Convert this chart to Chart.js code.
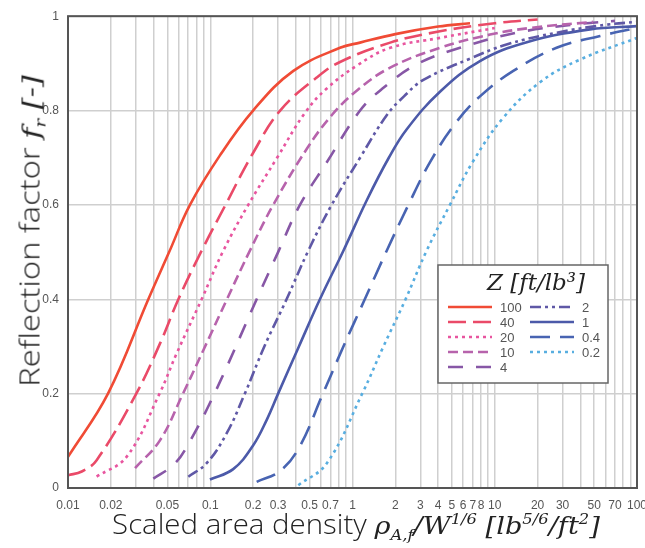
<!DOCTYPE html>
<html>
<head>
<meta charset="utf-8">
<script src="https://cdn.jsdelivr.net/npm/chart.js@4"></script>
<style>
    body { margin: 0; background: #fff; }
    #wrap { position: relative; width: 645px; height: 548px; overflow: hidden; }
    .ttl { position: absolute; font-family: 'Open Sans', sans-serif; font-weight: 300; font-size: 27px; color: #222; white-space: nowrap; line-height: 1; }
    .m { font-family: 'DejaVu Serif', 'Liberation Serif', serif; font-style: italic; font-size: 25px; }
    .m sub, .m sup { font-size: 15px; }
    #ytitle { left: 32px; top: 231px; }
    #xtitle { left: 356px; top: 526px; }
</style>
</head>
<body>
<div id="wrap">
    <canvas id="chart" width="645" height="548"></canvas>
    <div class="ttl" id="ytitle">Reflection factor <span class="m">f<sub>r</sub> [-]</span></div>
    <div class="ttl" id="xtitle">Scaled area density <span class="m">ρ<sub>A,f</sub>/W<sup>1/6</sup> [lb<sup>5/6</sup>/ft<sup>2</sup>]</span></div>
</div>
<script>
// Z values in ft/lb^3
const zLabels = ['100', '40', '20', '10', '4', '2', '1', '0.4', '0.2']

// curves: scaled area density (x) vs reflection factor (y)
const z100X = [0.01, 0.0191, 0.0367, 0.0514, 0.072, 0.117, 0.2, 0.384, 0.817, 1.13, 2, 4, 6.7]
const z100Y = [0.066, 0.2, 0.4, 0.5, 0.6, 0.705, 0.8, 0.884, 0.933, 0.944, 0.962, 0.978, 0.985]
const z40X = [0.01, 0.0125, 0.0159, 0.0302, 0.0443, 0.0597, 0.087, 0.128, 0.2, 0.31, 0.56, 0.817, 1.84, 4.12, 10, 20]
const z40Y = [0.027, 0.035, 0.059, 0.2, 0.306, 0.4, 0.503, 0.6, 0.71, 0.8, 0.87, 0.903, 0.944, 0.968, 0.985, 0.993]
const z20X = [0.0159, 0.0258, 0.044, 0.058, 0.087, 0.1236, 0.185, 0.295, 0.463, 0.65, 1.07, 1.84, 4.12, 10]
const z20Y = [0.024, 0.066, 0.2, 0.285, 0.4, 0.503, 0.6, 0.7, 0.795, 0.845, 0.895, 0.933, 0.954, 0.975]
const z10X = [0.0296, 0.0443, 0.0643, 0.0894, 0.131, 0.19, 0.277, 0.48, 0.714, 1.07, 1.84, 4.12, 9.27, 17.7, 49]
const z10Y = [0.042, 0.101, 0.2, 0.292, 0.4, 0.503, 0.6, 0.72, 0.79, 0.842, 0.891, 0.933, 0.961, 0.975, 0.988]
const z4X = [0.0398, 0.0551, 0.0683, 0.107, 0.212, 0.3, 0.427, 0.658, 1.13, 1.6, 2.83, 5.7, 14.3, 35.5, 70]
const z4Y = [0.02, 0.049, 0.087, 0.2, 0.4, 0.5, 0.6, 0.69, 0.8, 0.845, 0.898, 0.933, 0.965, 0.982, 0.99]
const z2X = [0.0701, 0.094, 0.13, 0.175, 0.24, 0.344, 0.489, 0.714, 1.13, 1.74, 2.3, 3.15, 6.7, 12.1, 27.2, 61, 100]
const z2Y = [0.024, 0.052, 0.115, 0.2, 0.3, 0.4, 0.503, 0.6, 0.7, 0.79, 0.83, 0.865, 0.91, 0.94, 0.965, 0.982, 0.988]
const z1X = [0.0995, 0.145, 0.2, 0.25, 0.3, 0.42, 0.59, 0.863, 1.26, 1.8, 2.4, 4.12, 7.87, 16.8, 46.7, 100]
const z1Y = [0.018, 0.04, 0.09, 0.145, 0.2, 0.3, 0.4, 0.503, 0.61, 0.7, 0.76, 0.84, 0.905, 0.945, 0.972, 0.979]
const z04X = [0.212, 0.309, 0.42, 0.62, 0.863, 1.22, 1.74, 2.47, 3.5, 5.2, 7.87, 13.5, 27.2, 55, 100]
const z04Y = [0.013, 0.036, 0.085, 0.2, 0.3, 0.4, 0.503, 0.6, 0.69, 0.77, 0.83, 0.884, 0.933, 0.958, 0.975]
const z02X = [0.416, 0.658, 1.17, 1.65, 2.36, 3.32, 4.84, 7.06, 11.5, 20.8, 39.7, 100]
const z02Y = [0.006, 0.052, 0.2, 0.3, 0.4, 0.503, 0.6, 0.693, 0.785, 0.86, 0.908, 0.954]

// x tick labels shown under the log grid
const xTickLabels = [0.01, 0.02, 0.05, 0.1, 0.2, 0.3, 0.5, 0.7, 1, 2, 3, 4, 5, 6, 7, 8, 10, 20, 30, 50, 70, 100]

const seriesX = [z100X, z40X, z20X, z10X, z4X, z2X, z1X, z04X, z02X]
const seriesY = [z100Y, z40Y, z20Y, z10Y, z4Y, z2Y, z1Y, z04Y, z02Y]
const colors = ['#f04b35', '#ea4a68', '#e8559f', '#b763ac', '#8757a6', '#5f58a6', '#4c5aa9', '#4864b2', '#58aee0']
const dashes = [[], [18, 7], [3, 4], [10, 5], [15, 13], [11, 4, 3, 4, 3, 4], [], [20, 10], [3, 4]]

function toPoints(xs, ys) {
    return xs.map((x, i) => ({ x: x, y: ys[i] }))
}

const datasets = zLabels.map((z, i) => ({
    label: z,
    data: toPoints(seriesX[i], seriesY[i]),
    borderColor: colors[i],
    borderDash: dashes[i],
    borderWidth: 2.6,
    pointRadius: 0,
    fill: false,
    tension: 0.4,
}))

// every 1..9 x decade gets a grid line
function logGridTicks() {
    const t = []
    for (let e = -2; e < 2; e++) {
        for (let m = 1; m < 10; m++) t.push(+(m * Math.pow(10, e)).toPrecision(3))
    }
    t.push(100)
    return t
}

const framePlugin = {
    id: 'frame',
    afterDatasetsDraw(chart) {
        const a = chart.chartArea
        const ctx = chart.ctx
        ctx.save()
        ctx.strokeStyle = '#555'
        ctx.lineWidth = 2
        ctx.strokeRect(a.left, a.top, a.right - a.left, a.bottom - a.top)
        ctx.restore()
    },
}

const boxLegend = {
    id: 'boxLegend',
    afterDraw(chart) {
        const ctx = chart.ctx
        const bx = 438, by = 265, bw = 170, bh = 118
        ctx.save()
        ctx.fillStyle = '#fff'
        ctx.fillRect(bx, by, bw, bh)
        ctx.strokeStyle = '#666'
        ctx.lineWidth = 1.5
        ctx.strokeRect(bx, by, bw, bh)
        ctx.fillStyle = '#222'
        ctx.font = 'italic 23px "DejaVu Serif", serif'
        ctx.textAlign = 'center'
        ctx.textBaseline = 'middle'
        ctx.fillText('Z [ft/lb\u00b3]', bx + 98, by + 19)
        ctx.font = '13px "Liberation Sans", Arial, sans-serif'
        ctx.textAlign = 'left'
        chart.data.datasets.forEach((ds, i) => {
            const col = i < 5 ? 0 : 1
            const row = i < 5 ? i : i - 5
            const lx = bx + 10 + col * 82
            const ly = by + 42 + row * 15
            ctx.strokeStyle = ds.borderColor
            ctx.lineWidth = 2.4
            ctx.setLineDash(ds.borderDash)
            ctx.beginPath()
            ctx.moveTo(lx, ly)
            ctx.lineTo(lx + 44, ly)
            ctx.stroke()
            ctx.setLineDash([])
            ctx.fillStyle = '#555'
            ctx.fillText(ds.label, lx + 52, ly + 1)
        })
        ctx.restore()
    },
}

const chart = new Chart(document.getElementById('chart'), {
    type: 'line',
    data: { datasets: datasets },
    options: {
        responsive: false,
        animation: false,
        layout: { padding: { left: 0, top: 15, right: 8, bottom: 0 } },
        plugins: { legend: { display: false }, tooltip: { enabled: false } },
        scales: {
            x: {
                type: 'logarithmic',
                min: 0.01,
                max: 100,
                afterBuildTicks: (scale) => {
                    scale.ticks = logGridTicks().map((v) => ({ value: v }))
                },
                afterFit: (scale) => {
                    scale.height = 60
                    scale.paddingLeft = 0
                    scale.paddingRight = 0
                },
                grid: { color: '#cfcfcf', lineWidth: 1.5, drawTicks: false },
                border: { display: false },
                ticks: {
                    autoSkip: false,
                    maxRotation: 0,
                    padding: 10,
                    color: '#555',
                    font: { family: 'Liberation Sans', size: 12 },
                    callback: (v) => (xTickLabels.includes(+(+v).toPrecision(3)) ? String(+(+v).toPrecision(3)) : ''),
                },
            },
            y: {
                min: 0,
                max: 1,
                afterFit: (scale) => { scale.width = 68 },
                grid: { color: '#cfcfcf', lineWidth: 1.5, drawTicks: false },
                border: { display: false },
                ticks: {
                    stepSize: 0.2,
                    padding: 9,
                    color: '#555',
                    font: { family: 'Liberation Sans', size: 12 },
                    callback: (v) => String(+(+v).toFixed(1)),
                },
            },
        },
    },
    plugins: [framePlugin, boxLegend],
})

// stretch the axis titles to the length they have in the figure
function fitTitle(id, length, rotate) {
    const el = document.getElementById(id)
    const s = length / el.offsetWidth
    el.style.transform = 'translate(-50%, -50%)' + (rotate ? ' rotate(-90deg)' : '') + ' scaleX(' + s + ')'
}
fitTitle('ytitle', 312, true)
fitTitle('xtitle', 488, false)
</script>
</body>
</html>
